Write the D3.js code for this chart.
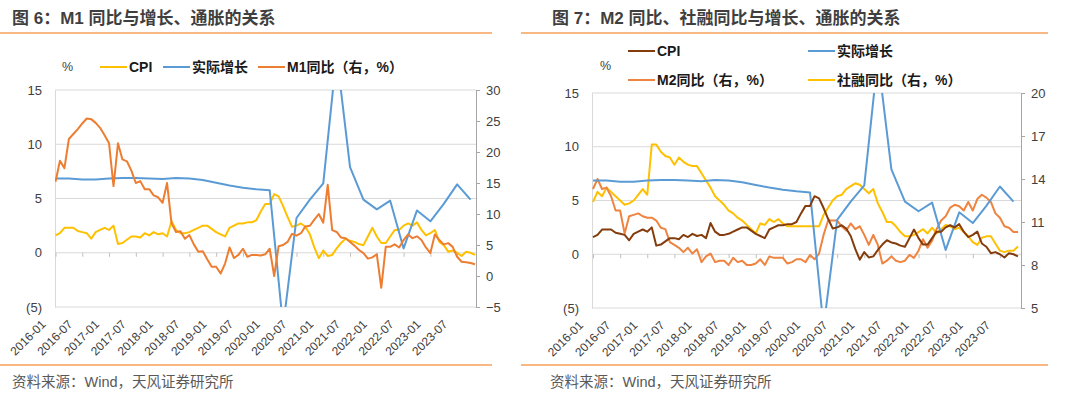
<!DOCTYPE html>
<html>
<head>
<meta charset="utf-8">
<script src="https://cdn.jsdelivr.net/npm/d3@7"></script>
<style>
body { margin: 0; background: #fff; }
svg text { font-family: "Liberation Sans", "Noto Sans CJK SC", sans-serif; }
</style>
</head>
<body>
<script>
// monthly categories, 2015-12 .. 2023-10
var months = d3.timeMonth.range(new Date(2015, 11, 1), new Date(2023, 10, 1)).map(d3.timeFormat("%Y-%m"));

var xLabels = ["2016-01","2016-07","2017-01","2017-07","2018-01","2018-07","2019-01","2019-07",
               "2020-01","2020-07","2021-01","2021-07","2022-01","2022-07","2023-01","2023-07"];

// CPI yoy, %
var cpi = [1.6,
  1.8, 2.3, 2.3, 2.3, 2.0, 1.9, 1.8, 1.3, 1.9, 2.1, 2.3, 2.1,
  2.5, 0.8, 0.9, 1.2, 1.5, 1.5, 1.4, 1.8, 1.6, 1.9, 1.7, 1.8,
  1.5, 2.9, 2.1, 1.8, 1.8, 1.9, 2.1, 2.3, 2.5, 2.5, 2.2, 1.9,
  1.7, 1.5, 2.3, 2.5, 2.7, 2.7, 2.8, 2.8, 3.0, 3.8, 4.5, 4.5,
  5.4, 5.2, 4.3, 3.3, 2.4, 2.5, 2.7, 2.4, 1.7, 0.5, -0.5, 0.2,
  -0.3, -0.2, 0.4, 0.9, 1.3, 1.1, 1.0, 0.8, 0.7, 1.5, 2.3, 1.5,
  0.9, 0.9, 1.5, 2.1, 2.1, 2.5, 2.7, 2.5, 2.8, 2.1, 1.6, 1.8,
  2.1, 1.0, 0.7, 0.1, 0.2, 0.0, -0.3, 0.1, 0.0, -0.2];

// M1 yoy, % (right axis of fig 6)
var m1 = [15.2,
  18.6, 17.4, 22.1, 22.9, 23.7, 24.6, 25.4, 25.3, 24.7, 23.9, 22.7, 21.4,
  14.5, 21.4, 18.8, 18.5, 17.0, 15.0, 15.3, 14.0, 14.0, 13.0, 12.7, 11.8,
  15.0, 8.5, 7.1, 7.2, 6.0, 6.6, 5.1, 3.9, 4.0, 2.7, 1.5, 1.5,
  0.4, 2.0, 4.6, 2.9, 3.4, 4.4, 3.1, 3.4, 3.4, 3.3, 3.5, 4.4,
  0.0, 4.8, 5.0, 5.5, 6.8, 6.5, 6.9, 8.0, 8.1, 9.1, 10.0, 8.6,
  14.7, 7.4, 7.1, 6.2, 6.1, 5.5, 4.9, 4.2, 3.7, 2.8, 3.0, 3.5,
  -1.9, 4.7, 4.7, 5.1, 4.6, 5.8, 6.7, 6.1, 6.4, 5.8, 4.6, 3.7,
  6.7, 5.8, 5.1, 5.3, 4.7, 3.1, 2.3, 2.2, 2.1, 1.9];

// M2 yoy, % (right axis of fig 7)
var m2 = [13.3,
  14.0, 13.3, 13.4, 12.8, 11.8, 11.8, 10.2, 11.4, 11.5, 11.6, 11.4, 11.3,
  11.3, 11.1, 10.6, 10.5, 9.6, 9.4, 9.2, 8.9, 9.2, 8.8, 9.1, 8.2,
  8.6, 8.8, 8.2, 8.3, 8.3, 8.0, 8.5, 8.2, 8.3, 8.0, 8.0, 8.1,
  8.4, 8.0, 8.6, 8.5, 8.5, 8.5, 8.1, 8.2, 8.4, 8.4, 8.2, 8.7,
  8.4, 8.8, 10.1, 11.1, 11.1, 11.1, 10.7, 10.4, 10.9, 10.5, 10.7, 10.1,
  9.4, 10.1, 9.4, 8.1, 8.3, 8.6, 8.3, 8.2, 8.3, 8.7, 8.5, 9.0,
  9.8, 9.2, 9.7, 10.5, 11.1, 11.4, 12.0, 12.2, 12.1, 11.8, 12.4, 11.8,
  12.6, 12.9, 12.7, 12.4, 11.6, 11.3, 10.7, 10.6, 10.3, 10.3];

// 社融存量 yoy, % (right axis of fig 7)
var tsf = [12.4,
  13.1, 12.8, 13.4, 13.1, 12.8, 12.5, 12.2, 12.3, 12.5, 12.9, 13.3, 12.9,
  16.4, 16.4, 15.9, 15.6, 15.5, 15.0, 15.5, 15.2, 15.0, 14.9, 14.9, 14.4,
  13.9, 13.4, 12.8, 12.5, 12.2, 11.8, 11.6, 11.3, 11.1, 10.8, 10.5, 10.2,
  10.9, 10.8, 11.2, 11.0, 11.2, 10.9, 10.7, 10.7, 10.7, 10.7, 10.7, 10.7,
  10.7, 10.7, 11.5, 12.0, 12.5, 12.8, 12.9, 13.3, 13.5, 13.7, 13.6, 13.3,
  13.0, 13.3, 12.3, 11.7, 11.0, 11.0, 10.7, 10.3, 10.0, 10.0, 10.1, 10.3,
  10.5, 10.2, 10.6, 10.2, 10.5, 10.8, 10.7, 10.5, 10.6, 10.3, 10.0, 9.6,
  9.4, 9.9, 10.0, 10.0, 9.5, 9.0, 8.9, 9.0, 9.0, 9.3];

// real GDP growth, quarterly
var gdpMonths = ["2015-12",
  "2016-03","2016-06","2016-09","2016-12","2017-03","2017-06","2017-09","2017-12",
  "2018-03","2018-06","2018-09","2018-12","2019-03","2019-06","2019-09","2019-12",
  "2020-03","2020-06","2020-09","2020-12","2021-03","2021-06","2021-09","2021-12",
  "2022-03","2022-06","2022-09","2022-12","2023-03","2023-06","2023-09"];
var gdp = [6.85,
  6.85, 6.75, 6.75, 6.85, 6.9, 6.9, 6.85, 6.8,
  6.9, 6.85, 6.7, 6.45, 6.2, 6.0, 5.85, 5.75,
  -6.8, 3.2, 4.9, 6.4, 18.3, 7.9, 4.9, 4.0,
  4.8, 0.4, 3.9, 2.9, 4.5, 6.3, 4.9];

var leftTicks = [-5, 0, 5, 10, 15];
var tickMonths = months.filter(function(d, i) { return i % 6 === 0; });

var svg = d3.select("body").append("svg")
    .attr("width", 1080)
    .attr("height", 399);

var panels = [
  {
    id: "p1", title: "图 6：M1 同比与增长、通胀的关系", titleX: 12, ruleX: [0, 492], sourceX: 12,
    left: 55, right: 476, top: 90, bottom: 307, xRange: [55.5, 475],
    rightDomain: [-5, 30], rightTicks: [-5, 0, 5, 10, 15, 20, 25, 30],
    series: [
      { name: "CPI", values: cpi, axis: "L", color: "#FFC000", lx: 100, ly: 67 },
      { name: "实际增长", values: gdp, months: gdpMonths, axis: "L", color: "#5B9BD5", lx: 163, ly: 67 },
      { name: "M1同比（右，%）", values: m1, axis: "R", color: "#ED7D31", lx: 258, ly: 67 }
    ],
    pct: [62, 67]
  },
  {
    id: "p2", title: "图 7：M2 同比、社融同比与增长、通胀的关系", titleX: 552, ruleX: [521, 1048], sourceX: 550,
    left: 592, right: 1021, top: 93, bottom: 308, xRange: [593, 1018],
    rightDomain: [5, 20], rightTicks: [5, 8, 11, 14, 17, 20],
    series: [
      { name: "社融同比（右，%）", values: tsf, axis: "R", color: "#FFC000", lx: 808, ly: 80 },
      { name: "M2同比（右，%）", values: m2, axis: "R", color: "#EE8440", lx: 628, ly: 80 },
      { name: "实际增长", values: gdp, months: gdpMonths, axis: "L", color: "#5B9BD5", lx: 808, ly: 51 },
      { name: "CPI", values: cpi, axis: "L", color: "#843C0C", lx: 628, ly: 51 }
    ],
    pct: [600, 66]
  }
];

panels.forEach(drawPanel);

function drawPanel(p) {
  var g = svg.append("g");

  var x = d3.scalePoint().domain(months).range(p.xRange);
  var yL = d3.scaleLinear().domain([-5, 15]).range([p.bottom, p.top]);
  var yR = d3.scaleLinear().domain(p.rightDomain).range([p.bottom, p.top]);

  // title + orange rules
  g.append("text")
    .attr("x", p.titleX).attr("y", 23.5)
    .attr("font-family", "Noto Sans CJK SC")
    .attr("font-size", 17).attr("font-weight", "bold")
    .attr("fill", "#3f3f3f")
    .text(p.title);
  [33, 365].forEach(function(yy) {
    g.append("line")
      .attr("x1", p.ruleX[0]).attr("x2", p.ruleX[1])
      .attr("y1", yy).attr("y2", yy)
      .attr("stroke", "#F4A15A").attr("stroke-width", 1.5);
  });
  g.append("text")
    .attr("x", p.sourceX).attr("y", 387)
    .attr("font-family", "Noto Sans CJK SC")
    .attr("font-size", 14.5).attr("fill", "#595959")
    .text("资料来源：Wind，天风证券研究所");

  // gridlines
  g.selectAll(".grid").data(leftTicks).enter().append("line")
    .attr("x1", p.left).attr("x2", p.right)
    .attr("y1", function(d) { return yL(d); })
    .attr("y2", function(d) { return yL(d); })
    .attr("stroke", "#d9d9d9");

  // left axis
  var ax = g.append("g")
    .attr("transform", "translate(" + p.left + ",0)")
    .call(d3.axisLeft(yL).tickValues(leftTicks).tickSize(0).tickPadding(13)
      .tickFormat(function(d) { return d < 0 ? "(" + Math.abs(d) + ")" : d; }));
  ax.select(".domain").attr("stroke", "#d9d9d9");
  ax.selectAll("text").attr("font-size", 13).attr("fill", "#404040");

  // right axis
  var ar = g.append("g")
    .attr("transform", "translate(" + p.right + ",0)")
    .call(d3.axisRight(yR).tickValues(p.rightTicks).tickSize(4).tickPadding(6));
  ar.select(".domain").attr("stroke", "#a6a6a6");
  ar.selectAll(".tick line").attr("stroke", "#a6a6a6");
  ar.selectAll("text").attr("font-size", 13).attr("fill", "#404040");

  // category ticks on the zero line
  var axb = g.append("g")
    .attr("transform", "translate(0," + yL(0) + ")")
    .call(d3.axisBottom(x).tickValues(tickMonths).tickSize(4).tickFormat(""));
  axb.select(".domain").remove();
  axb.selectAll(".tick line").attr("stroke", "#bfbfbf");

  // rotated date labels
  g.selectAll(".xl").data(xLabels).enter().append("text")
    .attr("transform", function(d, i) {
      return "translate(" + (x(tickMonths[i]) - 9) + "," + (p.bottom + 18) + ") rotate(-45)";
    })
    .attr("text-anchor", "end")
    .attr("font-size", 12).attr("fill", "#404040")
    .text(function(d) { return d; });

  // lines, clipped to the plot area
  g.append("clipPath").attr("id", "clip-" + p.id)
    .append("rect")
    .attr("x", p.left).attr("y", p.top)
    .attr("width", p.right - p.left).attr("height", p.bottom - p.top);

  var plot = g.append("g").attr("clip-path", "url(#clip-" + p.id + ")");

  p.series.forEach(function(s) {
    var ys = s.axis === "L" ? yL : yR;
    var ms = s.months || months;
    var line = d3.line()
      .x(function(d, i) { return x(ms[i]); })
      .y(function(d) { return ys(d); });
    plot.append("path")
      .datum(s.values)
      .attr("fill", "none")
      .attr("stroke", s.color)
      .attr("stroke-width", 2)
      .attr("stroke-linejoin", "round")
      .attr("d", line);
  });

  // legend
  g.append("text")
    .attr("x", p.pct[0]).attr("y", p.pct[1] + 4)
    .attr("font-size", 12.5).attr("fill", "#404040")
    .text("%");
  p.series.forEach(function(s) {
    g.append("line")
      .attr("x1", s.lx).attr("x2", s.lx + 27)
      .attr("y1", s.ly).attr("y2", s.ly)
      .attr("stroke", s.color).attr("stroke-width", 2);
    g.append("text")
      .attr("x", s.lx + 29).attr("y", s.ly + 5)
      .attr("font-family", "Noto Sans CJK SC")
      .attr("font-size", 14).attr("font-weight", "bold")
      .attr("fill", "#1a1a1a")
      .text(s.name);
  });
}
</script>
</body>
</html>
